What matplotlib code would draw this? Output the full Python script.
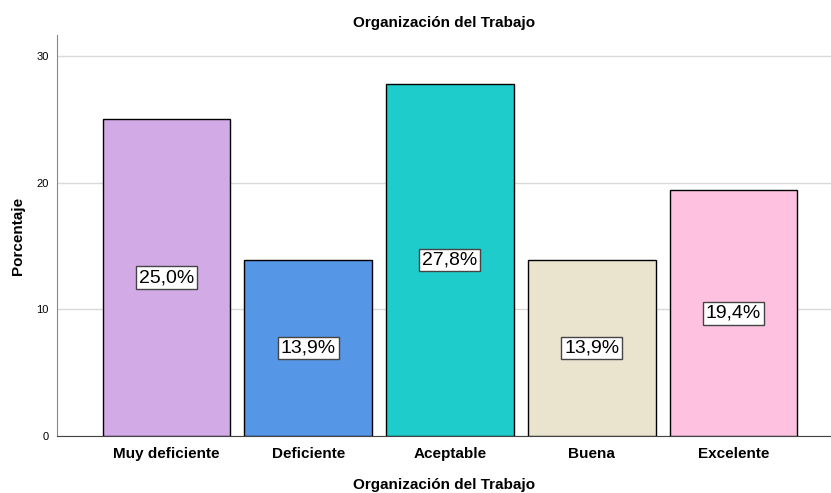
import matplotlib.pyplot as plt

plt.rcParams['font.family'] = ['Liberation Sans', 'DejaVu Sans']

categories = ['Muy deficiente', 'Deficiente', 'Aceptable', 'Buena', 'Excelente']
porcentajes = [25.0, 13.9, 27.8, 13.9, 19.4]
etiquetas = ['25,0%', '13,9%', '27,8%', '13,9%', '19,4%']
colores = ['#D2AAE6', '#5596E6', '#1ECDCB', '#EAE4CF', '#FEC1E0']
yticks = [0, 10, 20, 30]

fig = plt.figure(figsize=(8.31, 4.93), dpi=100)
ax = fig.add_axes([0.0686, 0.1156, 0.9314, 0.8134])

x = list(range(len(categories)))
ax.bar(x, porcentajes, width=0.9, color=colores, edgecolor='black', linewidth=1, zorder=3)

# etiquetas de porcentaje centradas en cada barra
for xi, v, lab in zip(x, porcentajes, etiquetas):
    ax.text(xi, v / 2, lab, ha='center', va='center', fontsize=14, zorder=4,
            bbox=dict(boxstyle='square,pad=0.15', facecolor='white', edgecolor='#444444', linewidth=1))

ax.set_xlim(-0.772, 4.688)
ax.set_ylim(0, 31.66)
ax.set_yticks(yticks)
ax.set_yticklabels([str(t) for t in yticks], fontsize=8)
ax.set_xticks(x)
ax.set_xticklabels(categories, fontsize=11, fontweight='bold')
ax.tick_params(axis='both', length=0)
ax.tick_params(axis='x', pad=8)
ax.tick_params(axis='y', pad=6)

ax.grid(True, axis='y', color='#d9d9d9', linewidth=1, zorder=0)
for s in ['top', 'right']:
    ax.spines[s].set_visible(False)
ax.spines['left'].set_color('#888888')
ax.spines['bottom'].set_color('#444444')

ax.set_title('Organización del Trabajo', fontsize=11, fontweight='bold', pad=6)
ax.set_xlabel('Organización del Trabajo', fontsize=11, fontweight='bold', labelpad=12)
ax.set_ylabel('Porcentaje', fontsize=11, fontweight='bold', labelpad=8)

fig.savefig('out.png', dpi=100)
